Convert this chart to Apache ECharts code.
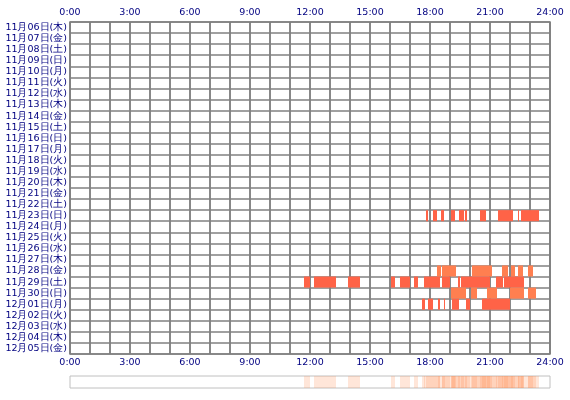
<!DOCTYPE html>
<html lang="ja">
<head>
    <meta charset="UTF-8">
    <title>chart</title>
    <style>
        * { margin: 0; padding: 0; }
        #chart { width: 570px; height: 400px; background: #fff; }
    </style>
    <script src="https://cdnjs.cloudflare.com/ajax/libs/echarts/6.0.0/echarts.min.js"></script>
</head>
<body>
<div id="chart"></div>
<script>
    const days = ["11月06日(木)", "11月07日(金)", "11月08日(土)", "11月09日(日)", "11月10日(月)",
        "11月11日(火)", "11月12日(水)", "11月13日(木)", "11月14日(金)", "11月15日(土)",
        "11月16日(日)", "11月17日(月)", "11月18日(火)", "11月19日(水)", "11月20日(木)",
        "11月21日(金)", "11月22日(土)", "11月23日(日)", "11月24日(月)", "11月25日(火)",
        "11月26日(水)", "11月27日(木)", "11月28日(金)", "11月29日(土)", "11月30日(日)",
        "12月01日(月)", "12月02日(火)", "12月03日(水)", "12月04日(木)", "12月05日(金)"]
    const hourTicks = [0, 3, 6, 9, 12, 15, 18, 21, 24]

    // [start hour, end hour] per active day
    const nov23 = [[17.8, 17.9], [18.15, 18.35], [18.55, 18.7], [19.05, 19.25], [19.45, 19.7],
        [19.75, 19.85], [20.5, 20.8], [21.4, 22.15], [22.4, 22.45], [22.55, 23.45]]
    const nov28 = [[18.35, 18.55], [18.6, 19.3], [20.1, 20.2], [20.2, 21.1], [21.6, 21.9],
        [22.05, 22.25], [22.4, 22.65], [22.9, 23.15]]
    const nov29 = [[11.7, 12.0], [12.2, 13.3], [13.9, 14.5], [16.05, 16.25], [16.5, 17.0],
        [17.2, 17.4], [17.7, 18.5], [18.6, 19.0], [19.4, 19.5], [19.55, 21.0], [21.3, 21.65], [21.7, 22.7]]
    const nov30 = [[19.05, 19.8], [20.05, 20.35], [20.85, 21.35], [22.0, 22.7], [22.9, 23.3]]
    const dec01 = [[17.6, 17.75], [17.9, 18.15], [18.4, 18.5], [18.7, 18.75], [19.1, 19.45],
        [19.8, 20.0], [20.6, 22.0]]

    const active = [
        {day: "11月23日(日)", segs: nov23, color: "#ff6347"},
        {day: "11月28日(金)", segs: nov28, color: "#ff7f50"},
        {day: "11月29日(土)", segs: nov29, color: "#ff6347"},
        {day: "11月30日(日)", segs: nov30, color: "#ff7f50"},
        {day: "12月01日(月)", segs: dec01, color: "#ff6347"}
    ]

    let barData = []
    let stripData = []
    active.forEach(a => {
        let row = days.indexOf(a.day)
        a.segs.forEach(s => {
            barData.push({value: [s[0], s[1], row], itemStyle: {color: a.color}})
            stripData.push([s[0], s[1], 0])
        })
    })

    function renderBar(params, api) {
        let p0 = api.coord([api.value(0), api.value(2)])
        let p1 = api.coord([api.value(1), api.value(2)])
        let h = api.size([0, 1])[1]
        return {
            type: 'rect',
            shape: {x: p0[0], y: p0[1] - h / 2, width: Math.max(p1[0] - p0[0], 1), height: h},
            style: api.style()
        }
    }

    const labelStyle = {color: '#000080', fontSize: 9.5, fontFamily: 'DejaVu Sans'}
    const hourAxis = pos => ({
        type: 'value', position: pos, min: 0, max: 24, interval: 1, gridIndex: 0,
        axisLine: {show: false}, axisTick: {show: false},
        splitLine: {show: true, lineStyle: {color: '#808080', width: 1.5}},
        axisLabel: Object.assign({
            margin: 4,
            formatter: v => hourTicks.includes(v) ? v + ':00' : ''
        }, labelStyle)
    })

    let chart = echarts.init(document.getElementById('chart'))
    chart.setOption({
        animation: false,
        grid: [
            {left: 70, top: 22, width: 480, height: 332, show: true, borderColor: '#808080', borderWidth: 1.5},
            {left: 70, top: 376, width: 480, height: 12, show: true, borderColor: '#c0c0c0', borderWidth: 1}
        ],
        xAxis: [
            hourAxis('top'),
            hourAxis('bottom'),
            {type: 'value', gridIndex: 1, min: 0, max: 24, show: false}
        ],
        yAxis: [
            {
                type: 'category', data: days, inverse: true, gridIndex: 0,
                axisLine: {show: false}, axisTick: {show: false},
                splitLine: {show: true, lineStyle: {color: '#808080', width: 1.5}},
                axisLabel: Object.assign({margin: 3, interval: 0}, labelStyle)
            },
            {type: 'category', data: ['all'], gridIndex: 1, show: false}
        ],
        series: [
            {
                type: 'custom', xAxisIndex: 0, yAxisIndex: 0,
                renderItem: renderBar, encode: {x: [0, 1], y: 2}, data: barData
            },
            {
                type: 'custom', xAxisIndex: 2, yAxisIndex: 1,
                renderItem: renderBar, encode: {x: [0, 1], y: 2},
                itemStyle: {color: '#ff8c50', opacity: 0.22}, data: stripData
            }
        ]
    })
</script>
</body>
</html>
